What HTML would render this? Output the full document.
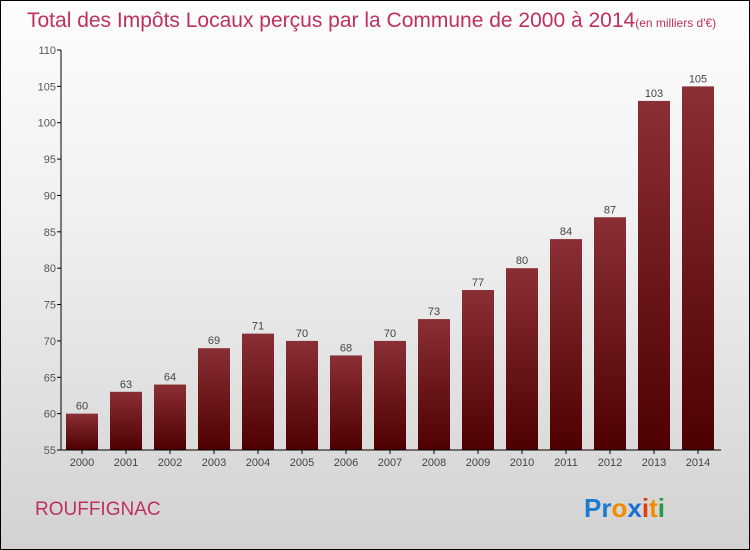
<!DOCTYPE html>
<html><head><meta charset="utf-8"><style>
body{margin:0}
#wrap{position:relative;width:748px;height:548px;border:1px solid #000;background:linear-gradient(#fdfdfd,#f0f0f0 40%,#d2d2d2);font-family:"Liberation Sans",sans-serif;overflow:hidden}
</style></head><body>
<div id="wrap">
<svg id="chart" width="748" height="548">
<defs><linearGradient id="bg" x1="0" y1="0" x2="0" y2="1"><stop offset="0" stop-color="#8a2f35"/><stop offset="1" stop-color="#4e0000"/></linearGradient></defs>
<text x="26" y="26" font-size="21" fill="#c0305e">Total des Impôts Locaux perçus par la Commune de 2000 à 2014<tspan font-size="12">(en milliers d'€)</tspan></text>
<text x="34" y="514" font-size="19" fill="#c0305e">ROUFFIGNAC</text>
<text x="583" y="516" font-size="26" font-weight="bold"><tspan fill="#1a7bd0">Pr</tspan><tspan fill="#f08c00">o</tspan><tspan fill="#1a6fd0">x</tspan><tspan fill="#e04010">i</tspan><tspan fill="#f08c00">t</tspan><tspan fill="#2a9a40">i</tspan></text>
<g id="g"></g>
</svg>
</div>
<script>
const categories=["2000","2001","2002","2003","2004","2005","2006","2007","2008","2009","2010","2011","2012","2013","2014"];
const values=[60,63,64,69,71,70,68,70,73,77,80,84,87,103,105];
const yTicks=[55,60,65,70,75,80,85,90,95,100,105,110];
const NS="http://www.w3.org/2000/svg";
const g=document.getElementById('g');
const y=v=>449-(v-55)*400/55;
const x=i=>81+i*44;
function mk(t,a){const e=document.createElementNS(NS,t);for(const k in a)e.setAttribute(k,a[k]);g.appendChild(e);return e;}
yTicks.forEach(t=>{
 const l=mk('line',{x1:56,x2:60,y1:y(t),y2:y(t),stroke:'#000'});
 
 
 const tx=mk('text',{x:55,y:y(t)+4,'text-anchor':'end','font-size':11,fill:'#555'});
 tx.textContent=t;
 
 
});
values.forEach((v,i)=>{
 const r=mk('rect',{x:x(i)-16,y:y(v),width:32,height:y(55)-y(v),fill:'url(#bg)'});
 
 
 const vl=mk('text',{x:x(i),y:y(v)-4,'text-anchor':'middle','font-size':11,fill:'#444'});
 vl.textContent=v;
 
 
 const c=mk('text',{x:x(i),y:465,'text-anchor':'middle','font-size':11,fill:'#444'});
 c.textContent=categories[i];
 
 
 const tk=mk('line',{x1:x(i),x2:x(i),y1:449,y2:453,stroke:'#000'});
 
 
});
const ya=mk('line',{x1:60,x2:60,y1:y(110),y2:449,stroke:'#000'});


const xa=mk('line',{x1:60,x2:720,y1:449,y2:449,stroke:'#000'});


</script>
</body></html>
